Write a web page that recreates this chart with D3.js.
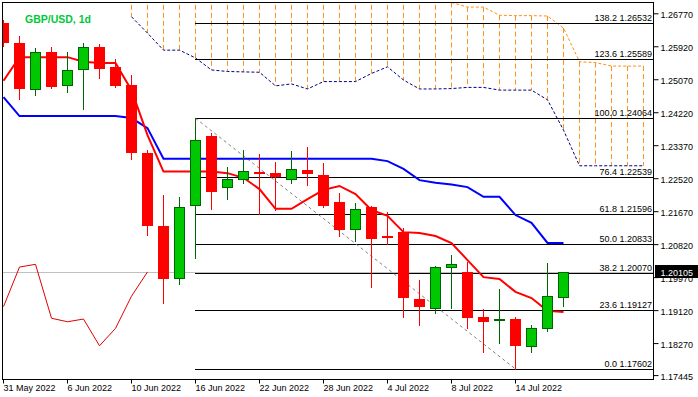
<!DOCTYPE html>
<html><head><meta charset="utf-8">
<script src="https://cdn.jsdelivr.net/npm/d3@7"></script>
<style>html,body{margin:0;padding:0;background:#fff;overflow:hidden}svg{display:block}</style>
</head><body>
<svg id="c" width="698" height="397"></svg>
<script>
// ---------- DATA ----------
const title = "GBP/USD, 1d";
const dates = ["31 May","1 Jun","2 Jun","3 Jun","6 Jun","7 Jun","8 Jun","9 Jun","10 Jun","13 Jun","14 Jun","15 Jun",
  "16 Jun","17 Jun","20 Jun","21 Jun","22 Jun","23 Jun","24 Jun","27 Jun","28 Jun","29 Jun","30 Jun","1 Jul",
  "4 Jul","5 Jul","6 Jul","7 Jul","8 Jul","11 Jul","12 Jul","13 Jul","14 Jul","15 Jul","18 Jul","19 Jul"];
const open  = [1.2653,1.2600,1.2483,1.2577,1.2491,1.2533,1.2589,1.2539,1.2491,1.2318,1.2129,1.1994,1.2182,1.2361,1.2229,1.2251,1.2268,1.2265,1.2251,1.2273,1.2260,1.2191,1.2122,1.2178,1.2103,1.2114,1.1941,1.1918,1.2022,1.2010,1.1893,1.1887,1.1889,1.1820,1.1865,1.1945];
const high  = [1.2660,1.2619,1.2588,1.2590,1.2577,1.2601,1.2597,1.2559,1.2517,1.2325,1.2209,1.2204,1.24064,1.2369,1.2280,1.2325,1.2314,1.2295,1.2321,1.2333,1.2292,1.2215,1.2189,1.2180,1.2166,1.2124,1.1990,1.2026,1.2054,1.2035,1.1914,1.1966,1.1894,1.1874,1.2034,1.20105];
const low   = [1.2593,1.2457,1.2467,1.2485,1.2475,1.2430,1.2511,1.2486,1.2301,1.2106,1.1931,1.1979,1.2046,1.2172,1.2198,1.2240,1.2159,1.2170,1.2239,1.2235,1.2179,1.2104,1.2091,1.1972,1.2082,1.1895,1.1874,1.1905,1.1918,1.1865,1.1805,1.1827,1.17602,1.1803,1.1859,1.1923];
const close = [1.2601,1.2483,1.2577,1.2488,1.2530,1.2589,1.2534,1.2490,1.2316,1.2130,1.1992,1.2177,1.2350,1.2217,1.2249,1.2270,1.2262,1.2256,1.2275,1.2264,1.2180,1.2119,1.2172,1.2096,1.2098,1.1944,1.1921,1.2023,1.2030,1.1891,1.1882,1.1889,1.1820,1.1865,1.1948,1.20105];
const tenkan = [1.2503,1.2564,1.2564,1.2564,1.2564,1.2552,1.2549,1.2549,1.2479,1.2363,1.2269,1.2269,1.2269,1.2269,1.2265,1.2253,1.2224,1.2173,1.2173,1.2198,1.2222,1.2232,1.2211,1.2170,1.2155,1.2113,1.2111,1.2103,1.2085,1.2041,1.1997,1.1992,1.1959,1.1943,1.1910,1.1907];
const kijun  = [1.2461,1.2412,1.2412,1.2412,1.2412,1.2412,1.2412,1.2412,1.2407,1.2381,1.2302,1.2302,1.2302,1.2302,1.2302,1.2302,1.2302,1.2302,1.2302,1.2302,1.2302,1.2302,1.2302,1.2302,1.2296,1.2276,1.2247,1.2240,1.2236,1.2229,1.2204,1.2204,1.2157,1.2137,1.2085,1.2085];
// Senkou spans (shifted 26 bars ahead, so they run 5 bars past the last candle)
const spanA = [null,null,null,null,null,null,null,null,
  1.2740,1.2740,1.2740,1.2740,1.2740,1.2740,1.2740,1.2740,1.2740,1.2740,1.2740,1.2740,1.2740,1.2740,1.2740,1.2740,1.2740,1.2740,1.2740,1.2740,
  1.2705,1.2693,1.2693,1.2672,1.2671,1.2671,1.2670,1.2639,1.2552,1.2550,1.2541,1.2541,1.2541];
const spanB = [null,null,null,null,null,null,null,null,
  1.2668,1.2626,1.2582,1.2582,1.2562,1.2531,1.2527,1.2526,1.2525,1.2490,1.2495,1.2482,1.2501,1.2501,1.2501,1.2522,1.2539,1.2505,1.2482,1.2482,
  1.2483,1.2486,1.2486,1.2479,1.2479,1.2479,1.2454,1.2376,1.2284,1.2284,1.2284,1.2284,1.2284];
const chikouShift = 26;
const xTickIdx = [0,4,8,12,16,20,24,28,32];
const xTickLabels = ["31 May 2022","6 Jun 2022","10 Jun 2022","16 Jun 2022","22 Jun 2022","28 Jun 2022","4 Jul 2022","8 Jul 2022","14 Jul 2022"];
const yTicks = [1.26770,1.25920,1.25070,1.24220,1.23370,1.22520,1.21670,1.20820,1.19970,1.19120,1.18270,1.17445];
const fibRatios = [0, 23.6, 38.2, 50.0, 61.8, 76.4, 100.0, 123.6, 138.2];
const fibHighIdx = 12, fibLowIdx = 32;
const lastPrice = 1.20105;

// ---------- DRAW ----------
const svg = d3.select('#c');
const L = 2.5, R = 653.5, T = 2.5, B = 379.5;
const NB = spanA.length;
const x = d3.scaleLinear().domain([0, 40]).range([3.5, 643.5]);
const y = d3.scaleLinear().domain([1.17445, 1.26770]).range([375.1, 13.3]);
const px = i => Math.floor(x(i)) + 0.5;
const py = v => Math.round(y(v)) + 0.5;
const FONT = '"Liberation Sans", Arial, sans-serif';
const ORANGE = '#ff9018', NAVY = '#000080';

svg.append('rect').attr('width', 698).attr('height', 397).attr('fill', '#fff');
svg.append('defs').append('clipPath').attr('id', 'plot')
  .append('rect').attr('x', L).attr('y', T).attr('width', R - L).attr('height', B - T);
const g = svg.append('g').attr('clip-path', 'url(#plot)');

// cloud hatch
const cloudIdx = d3.range(NB).filter(i => spanA[i] != null && spanB[i] != null);
g.selectAll('line.hatch').data(cloudIdx).join('line').attr('class', 'hatch')
  .attr('x1', px).attr('x2', px)
  .attr('y1', i => y(Math.max(spanA[i], spanB[i])))
  .attr('y2', i => y(Math.min(spanA[i], spanB[i])))
  .attr('stroke', ORANGE).attr('stroke-width', 1).attr('stroke-dasharray', '5,3');

const line = d3.line().defined(d => d != null).x((d, i) => x(i)).y(d => y(d));
g.append('path').attr('d', line(spanA)).attr('fill', 'none').attr('stroke', ORANGE).attr('stroke-width', 1).attr('stroke-dasharray', '3,2');
g.append('path').attr('d', line(spanB)).attr('fill', 'none').attr('stroke', NAVY).attr('stroke-width', 1).attr('stroke-dasharray', '3,2');

// bid line
g.append('line').attr('x1', L).attr('x2', R).attr('y1', py(lastPrice)).attr('y2', py(lastPrice))
  .attr('stroke', '#c0c0c0').attr('stroke-width', 1);

// fibonacci
const fHi = high[fibHighIdx], fLo = low[fibLowIdx];
const fibLevels = fibRatios.map(r => ({ r, v: fLo + (fHi - fLo) * r / 100 }));
g.selectAll('line.fib').data(fibLevels).join('line').attr('class', 'fib')
  .attr('x1', Math.floor(x(fibHighIdx))).attr('x2', R)
  .attr('y1', d => py(d.v)).attr('y2', d => py(d.v))
  .attr('stroke', '#000').attr('stroke-width', 1);
g.append('line')
  .attr('x1', x(fibHighIdx)).attr('y1', y(fHi)).attr('x2', x(fibLowIdx)).attr('y2', y(fLo))
  .attr('stroke', '#808080').attr('stroke-width', 1).attr('stroke-dasharray', '3,3');

// chikou
const chikou = close.slice(chikouShift);
g.append('path').attr('d', line(chikou)).attr('fill', 'none').attr('stroke', '#e00000').attr('stroke-width', 1);
// kijun / tenkan
g.append('path').attr('d', line(kijun)).attr('fill', 'none').attr('stroke', '#0000ff').attr('stroke-width', 2);
g.append('path').attr('d', line(tenkan)).attr('fill', 'none').attr('stroke', '#ff0000').attr('stroke-width', 2);

// candles
const bars = close.map((c, i) => ({ i, o: open[i], h: high[i], l: low[i], c, up: c >= open[i] }));
const cg = g.selectAll('g.candle').data(bars).join('g').attr('class', 'candle');
cg.append('line')
  .attr('x1', d => px(d.i)).attr('x2', d => px(d.i))
  .attr('y1', d => Math.round(y(d.h))).attr('y2', d => Math.round(y(d.l)) + 1)
  .attr('stroke', d => d.up ? '#006400' : '#ff0000').attr('stroke-width', 1);
cg.append('rect')
  .attr('x', d => Math.floor(x(d.i)) - 5 + (d.up ? 0.5 : 0))
  .attr('width', d => d.up ? 10 : 11)
  .attr('y', d => Math.round(y(Math.max(d.o, d.c))) + (d.up ? 0.5 : 0))
  .attr('height', d => Math.max(d.up ? 1 : 2, Math.round(y(Math.min(d.o, d.c))) - Math.round(y(Math.max(d.o, d.c)))))
  .attr('fill', d => d.up ? '#00c800' : '#ff0000')
  .attr('stroke', d => d.up ? '#006400' : 'none').attr('stroke-width', 1);

// fib labels
svg.selectAll('text.fibl').data(fibLevels).join('text').attr('class', 'fibl')
  .attr('x', 652).attr('y', d => py(d.v) - 2.5)
  .attr('text-anchor', 'end').attr('font-family', FONT).attr('font-size', 9).attr('fill', '#000')
  .text(d => d.r.toFixed(1) + ' ' + d.v.toFixed(5));

// border
svg.append('rect').attr('x', L).attr('y', T).attr('width', R - L).attr('height', B - T)
  .attr('fill', 'none').attr('stroke', '#000').attr('stroke-width', 1);

// y axis
const yAxis = d3.axisRight(y).tickValues(yTicks).tickSize(5).tickPadding(2).tickFormat(d3.format('.5f'));
const ya = svg.append('g').attr('transform', `translate(${R},0)`).call(yAxis)
  .attr('font-family', FONT).attr('font-size', 9);
ya.select('.domain').remove();
ya.selectAll('text').attr('dy', '0.45em').attr('fill', '#000');

// x axis
const xAxis = d3.axisBottom(x).tickValues(xTickIdx).tickSize(4).offset(0)
  .tickFormat((d, k) => xTickLabels[k]);
const xa = svg.append('g').attr('transform', `translate(0,${B})`).call(xAxis)
  .attr('font-family', FONT).attr('font-size', 9);
xa.select('.domain').remove();
xa.selectAll('text').attr('text-anchor', 'start').attr('x', 0).attr('y', 11.5).attr('dy', 0).attr('fill', '#000');

// current price label (covers the 1.19970 axis label, as in the original)
svg.append('rect').attr('x', 655).attr('y', Math.round(y(lastPrice)) - 7).attr('width', 43).attr('height', 13).attr('fill', '#000');
svg.append('text').attr('x', 660.5).attr('y', y(lastPrice)).attr('dy', '0.45em')
  .attr('font-family', FONT).attr('font-size', 9).attr('fill', '#fff').text(lastPrice.toFixed(5));

// title
svg.append('text').attr('x', 25).attr('y', 22.5).attr('font-family', FONT).attr('font-size', 10.5)
  .attr('font-weight', 'bold').attr('fill', '#00c83a').text(title);
</script>
</body></html>
